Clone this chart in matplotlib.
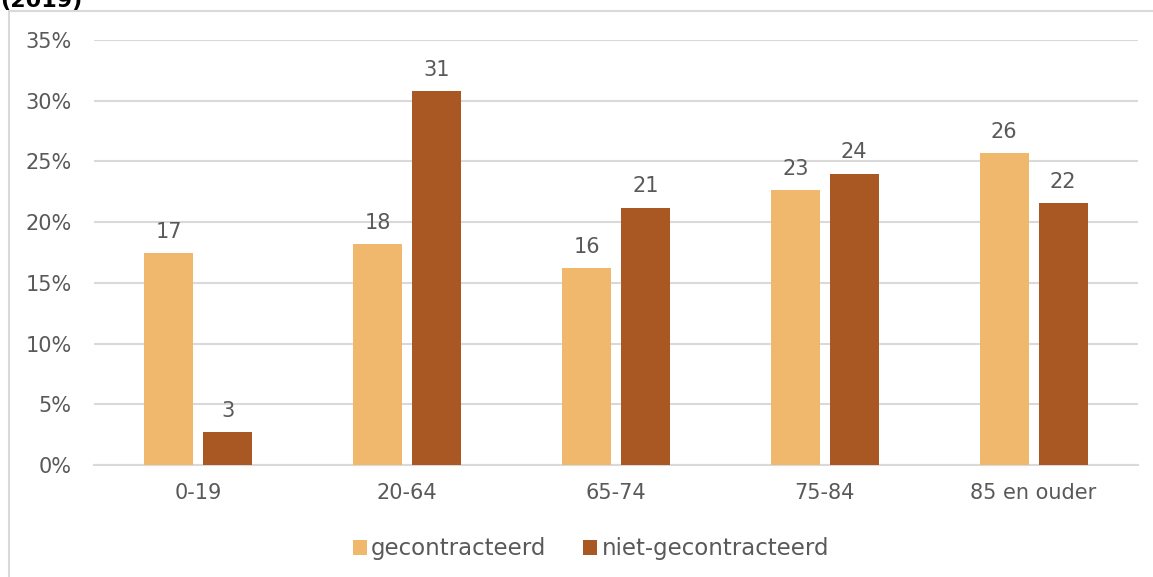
import matplotlib
matplotlib.use("Agg")
import matplotlib.pyplot as plt
from matplotlib.patches import Rectangle, Patch
import numpy as np

categories = ["0-19", "20-64", "65-74", "75-84", "85 en ouder"]
gecontracteerd = [17.46, 18.2, 16.2, 22.65, 25.7]
niet_gecontracteerd = [2.7, 30.8, 21.2, 24.0, 21.6]
series_names = ["gecontracteerd", "niet-gecontracteerd"]
yticks = [0, 5, 10, 15, 20, 25, 30, 35]

c1 = "#F0B86C"
c2 = "#A95823"
txt = "#595959"
grid = "#D9D9D9"
FONT = "DejaVu Sans"
plt.rcParams["font.family"] = FONT

W, H = 1153, 577
fig = plt.figure(figsize=(W / 100, H / 100), dpi=100)
ax = fig.add_axes([94 / W, 1 - 465 / H, (1138 - 94) / W, (465 - 40) / H])

x = np.arange(len(categories))
bw = 0.235
off = 0.141
b1 = ax.bar(x - off, gecontracteerd, bw, color=c1, zorder=3)
b2 = ax.bar(x + off, niet_gecontracteerd, bw, color=c2, zorder=3)

for bars, vals in ((b1, gecontracteerd), (b2, niet_gecontracteerd)):
    for b, v in zip(bars, vals):
        ax.annotate(f"{int(round(v))}", (b.get_x() + b.get_width() / 2, v),
                    xytext=(0, 8), textcoords="offset points",
                    ha="center", va="bottom", fontsize=15, color=txt)

ax.set_xlim(-0.5, len(categories) - 0.5)
ax.set_ylim(0, 35)
ax.set_yticks(yticks)
ax.set_yticklabels([f"{t}%" for t in yticks])
ax.set_xticks(x)
ax.set_xticklabels(categories)
ax.tick_params(axis="both", length=0, labelsize=15, colors=txt)
ax.tick_params(axis="y", pad=16)
ax.tick_params(axis="x", pad=13)
ax.grid(axis="y", color=grid, linewidth=1.5, zorder=0)
for s in ("left", "right", "top"):
    ax.spines[s].set_visible(False)
ax.spines["bottom"].set_color(grid)
ax.spines["bottom"].set_linewidth(1.5)

handles = [Patch(facecolor=c1), Patch(facecolor=c2)]
fig.legend(handles, series_names, loc="center", bbox_to_anchor=(591 / W, 1 - 549 / H),
           ncol=2, frameon=False, fontsize=16.5, labelcolor=txt,
           handlelength=0.6, handleheight=0.6, handletextpad=0.2, columnspacing=1.6)

# chart frame (extends beyond the image)
fig.add_artist(Rectangle((8.5 / W, -0.1), 1.2, 1 - 10.5 / H + 0.1, transform=fig.transFigure,
                         fill=False, edgecolor=grid, linewidth=1.5))

fig.text(0, 1 - 7 / H, "(2019)", ha="left", va="baseline", fontsize=16,
         fontweight="bold", color="black")

fig.savefig("out.png", dpi=100)
